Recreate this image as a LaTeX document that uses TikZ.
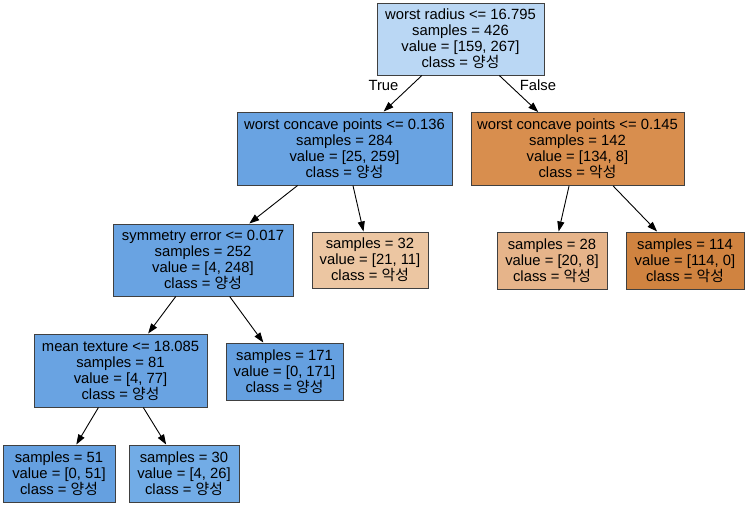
\documentclass[tikz,border=0pt]{standalone}
\usepackage{fontspec}
\setmainfont{Liberation Sans}
\newfontfamily\kr{Noto Sans CJK KR}
\usetikzlibrary{arrows.meta}
\definecolor{cRoot}{HTML}{BAD7F4}
\definecolor{cBlue}{HTML}{69A3E2}
\definecolor{cBlueFull}{HTML}{65A0E0}
\definecolor{cBlueL}{HTML}{72ACE6}
\definecolor{cOrMid}{HTML}{D88E4E}
\definecolor{cOrFull}{HTML}{D08340}
\definecolor{cPeach}{HTML}{ECC6A2}
\definecolor{cPeach2}{HTML}{E6B48A}
\begin{document}
\begin{tikzpicture}[x=1pt,y=-1pt,
  tn/.style={draw=black!75, line width=1pt, align=center, inner sep=0pt,
    font=\fontsize{14.8}{16}\selectfont},
  ed/.style={-{Triangle[length=10pt,width=7pt]}, line width=0.9pt, black},
  lab/.style={font=\fontsize{14.8}{16}\selectfont, inner sep=0pt}]
\useasboundingbox (0,0) rectangle (747,504);
\fill[white] (0,0) rectangle (747,504);

\node[tn, fill=cRoot, minimum width=167pt, minimum height=72pt] (root) at (460.5,39)
  {worst radius <= 16.795\\samples = 426\\value = [159, 267]\\class = {\kr 양성}};
\node[tn, fill=cBlue, minimum width=215pt, minimum height=73pt] (n2) at (344.5,148.5)
  {worst concave points <= 0.136\\samples = 284\\value = [25, 259]\\class = {\kr 양성}};
\node[tn, fill=cOrMid, minimum width=213pt, minimum height=73pt] (n3) at (577.5,149)
  {worst concave points <= 0.145\\samples = 142\\value = [134, 8]\\class = {\kr 악성}};
\node[tn, fill=cBlue, minimum width=180pt, minimum height=72pt] (n4) at (203,260)
  {symmetry error <= 0.017\\samples = 252\\value = [4, 248]\\class = {\kr 양성}};
\node[tn, fill=cPeach, minimum width=116pt, minimum height=56pt] (n5) at (370,260)
  {samples = 32\\value = [21, 11]\\class = {\kr 악성}};
\node[tn, fill=cPeach2, minimum width=110pt, minimum height=57pt] (n6) at (552,260.5)
  {samples = 28\\value = [20, 8]\\class = {\kr 악성}};
\node[tn, fill=cOrFull, minimum width=118pt, minimum height=57pt] (n7) at (685,260.5)
  {samples = 114\\value = [114, 0]\\class = {\kr 악성}};
\node[tn, fill=cBlue, minimum width=173pt, minimum height=73pt] (n8) at (120.5,370.5)
  {mean texture <= 18.085\\samples = 81\\value = [4, 77]\\class = {\kr 양성}};
\node[tn, fill=cBlueFull, minimum width=117pt, minimum height=57pt] (n9) at (284.5,371.5)
  {samples = 171\\value = [0, 171]\\class = {\kr 양성}};
\node[tn, fill=cBlueFull, minimum width=112pt, minimum height=57pt] (n10) at (59,473.5)
  {samples = 51\\value = [0, 51]\\class = {\kr 양성}};
\node[tn, fill=cBlueL, minimum width=110pt, minimum height=57pt] (n11) at (184,473.5)
  {samples = 30\\value = [4, 26]\\class = {\kr 양성}};

\draw[ed] (root) -- (n2);
\draw[ed] (root) -- (n3);
\draw[ed] (n2) -- (n4);
\draw[ed] (n2) -- (n5);
\draw[ed] (n3) -- (n6);
\draw[ed] (n3) -- (n7);
\draw[ed] (n4) -- (n8);
\draw[ed] (n4) -- (n9);
\draw[ed] (n8) -- (n10);
\draw[ed] (n8) -- (n11);

\node[lab] (lTrue) at (383.5,85) {True};
\node[lab] (lFalse) at (538,85) {False};
\end{tikzpicture}
\end{document}
